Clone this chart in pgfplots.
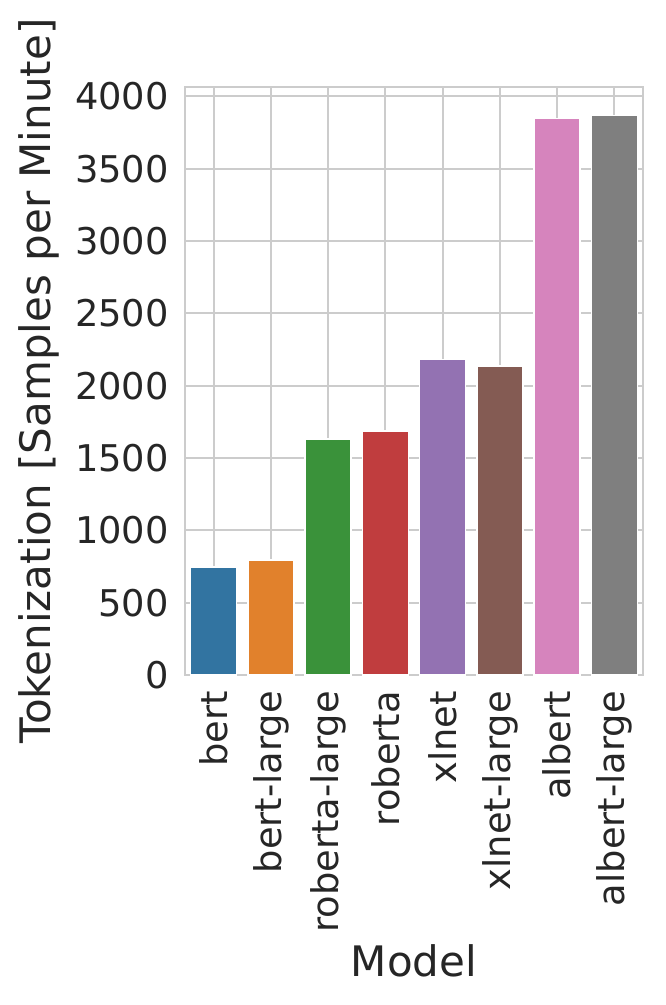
\documentclass[border=0pt]{standalone}
\usepackage{pgfplots}
\pgfplotsset{compat=1.18}
\usepackage{fontspec}
\setmainfont{DejaVu Sans}
\definecolor{c0}{HTML}{3274A1}
\definecolor{c1}{HTML}{E1812C}
\definecolor{c2}{HTML}{3A923A}
\definecolor{c3}{HTML}{C03D3E}
\definecolor{c4}{HTML}{9372B2}
\definecolor{c5}{HTML}{845B53}
\definecolor{c6}{HTML}{D684BD}
\definecolor{c7}{HTML}{7F7F7F}
\definecolor{gridc}{HTML}{CCCCCC}
\definecolor{txt}{HTML}{262626}
\begin{document}
\begin{tikzpicture}
\useasboundingbox (-92.5pt,-165pt) rectangle (240pt,337.5pt);
\begin{axis}[
  at={(0,0)}, anchor=south west,
  scale only axis, width=229pt, height=294pt,
  xmin=-0.5, xmax=7.5, ymin=0, ymax=4065,
  xtick={0,1,2,3,4,5,6,7},
  xticklabels={bert,bert-large,roberta-large,roberta,xlnet,xlnet-large,albert,albert-large},
  ytick={0,500,1000,1500,2000,2500,3000,3500,4000},
  /pgf/number format/assume math mode=true,
  /pgf/number format/1000 sep={},
  major tick length=0pt,
  grid=major,
  grid style={gridc, line width=1.1pt},
  axis line style={gridc, line width=1.25pt},
  tick label style={font=\fontsize{18.4}{22}\selectfont, text=txt},
  xticklabel style={rotate=90, anchor=east},
  xticklabel shift=4.6pt,
  yticklabel shift=4.6pt,
  label style={font=\fontsize{21}{25}\selectfont, text=txt},
  xlabel={Model},
  ylabel={Tokenization [Samples per Minute]},
  xlabel style={at={(axis description cs:0.5,-0.486)}, anchor=center},
  ylabel style={at={(axis description cs:-0.318,0.5)}, anchor=center},
]
\addplot[ybar, bar width=0.8, bar shift=0pt, fill=c0, draw=white, line width=0.75pt] coordinates {(0,747)};
\addplot[ybar, bar width=0.8, bar shift=0pt, fill=c1, draw=white, line width=0.75pt] coordinates {(1,795)};
\addplot[ybar, bar width=0.8, bar shift=0pt, fill=c2, draw=white, line width=0.75pt] coordinates {(2,1630)};
\addplot[ybar, bar width=0.8, bar shift=0pt, fill=c3, draw=white, line width=0.75pt] coordinates {(3,1688)};
\addplot[ybar, bar width=0.8, bar shift=0pt, fill=c4, draw=white, line width=0.75pt] coordinates {(4,2180)};
\addplot[ybar, bar width=0.8, bar shift=0pt, fill=c5, draw=white, line width=0.75pt] coordinates {(5,2137)};
\addplot[ybar, bar width=0.8, bar shift=0pt, fill=c6, draw=white, line width=0.75pt] coordinates {(6,3846)};
\addplot[ybar, bar width=0.8, bar shift=0pt, fill=c7, draw=white, line width=0.75pt] coordinates {(7,3867)};
\end{axis}
\end{tikzpicture}
\end{document}
